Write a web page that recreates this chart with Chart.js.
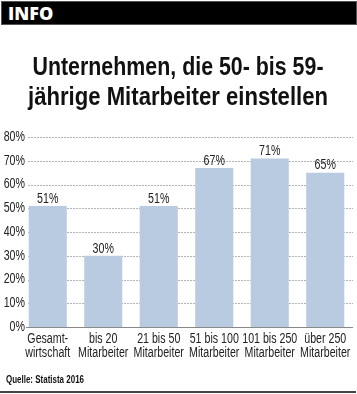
<!DOCTYPE html>
<html><head><meta charset="utf-8">
<script src="https://cdn.jsdelivr.net/npm/chart.js@4.4.1/dist/chart.umd.min.js"></script>
<style>
html,body{margin:0;padding:0;background:#fff;width:357px;height:394px;overflow:hidden;}
#wrap{position:absolute;left:0;top:0;width:357px;height:394px;}
#hdr{position:absolute;left:1px;top:1px;width:354px;height:22px;background:#000;border:1px solid #555;box-sizing:content-box;}
#hdr span{position:absolute;left:6px;top:0px;color:#fff;font:800 18px "Open Sans",sans-serif;line-height:22px;}
.tl{position:absolute;left:178px;font:bold 25px "Liberation Sans",sans-serif;color:#111;white-space:nowrap;line-height:30px;}
#src{position:absolute;left:6px;top:373px;font:bold 11px "Liberation Sans",sans-serif;color:#111;white-space:nowrap;transform-origin:left center;}
#bot{position:absolute;left:0;top:391px;width:356px;height:2px;background:#444;}
canvas{position:absolute;left:0;top:0;}
</style></head>
<body>
<div id="wrap"><canvas id="c" width="357" height="394"></canvas></div>
<div id="hdr"><span>INFO</span></div>
<div class="tl" id="t1" style="top:51px">Unternehmen, die 50- bis 59-</div>
<div class="tl" id="t2" style="top:81px">jährige Mitarbeiter einstellen</div>
<div id="src">Quelle: Statista 2016</div>
<div id="bot"></div>
<script>
const categories = [['Gesamt-','wirtschaft'],['bis 20','Mitarbeiter'],['21 bis 50','Mitarbeiter'],['51 bis 100','Mitarbeiter'],['101 bis 250','Mitarbeiter'],['über 250','Mitarbeiter']];
const values = [51, 30, 51, 67, 71, 65];
const yTicks = [0,10,20,30,40,50,60,70,80];

function fitCenter(el, target){
  const w = el.getBoundingClientRect().width;
  el.style.transformOrigin = 'left center';
  el.style.transform = 'translateX(' + (-target/2) + 'px) scaleX(' + (target / w) + ')';
}
function fitLeft(el, target){
  const w = el.getBoundingClientRect().width;
  el.style.transform = 'scaleX(' + (target / w) + ')';
}
fitCenter(document.getElementById('t1'), 291);
fitCenter(document.getElementById('t2'), 300);
fitLeft(document.getElementById('src'), 78);

const FONT = '"Liberation Sans",sans-serif';
const SX = 0.76; // horizontal condensing of canvas text

const canvas = document.getElementById('c');
const cctx = canvas.getContext('2d');
const origFill = cctx.fillText.bind(cctx);
const origMeasure = cctx.measureText.bind(cctx);
cctx.fillText = function(text, x, y){
  this.save();
  this.translate(x, y);
  this.scale(SX, 1);
  origFill(text, 0, 0);
  this.restore();
};
cctx.measureText = function(text){
  const m = origMeasure(text);
  return { width: m.width * SX, actualBoundingBoxAscent: m.actualBoundingBoxAscent, actualBoundingBoxDescent: m.actualBoundingBoxDescent };
};
cctx.font = '14px ' + FONT;
const widestY = cctx.measureText('80%').width;

const gridPlugin = {
  id: 'grid',
  beforeDatasetsDraw(chart){
    const ctx = chart.ctx, y = chart.scales.y, a = chart.chartArea;
    ctx.save();
    ctx.strokeStyle = '#b4b4b4';
    ctx.lineWidth = 1;
    ctx.setLineDash([2,1]);
    yTicks.forEach(v => {
      if (v === 0) return;
      const py = Math.round(y.getPixelForValue(v)) + 0.5;
      ctx.beginPath(); ctx.moveTo(28, py); ctx.lineTo(a.right, py); ctx.stroke();
    });
    ctx.restore();
  },
  afterDatasetsDraw(chart){
    const ctx = chart.ctx, y = chart.scales.y, a = chart.chartArea;
    ctx.save();
    ctx.strokeStyle = '#888';
    ctx.lineWidth = 1;
    const py = Math.round(y.getPixelForValue(0)) + 0.5;
    ctx.beginPath(); ctx.moveTo(26, py); ctx.lineTo(a.right, py); ctx.stroke();
    ctx.fillStyle = '#222';
    ctx.font = '14px ' + FONT;
    ctx.textAlign = 'center';
    ctx.textBaseline = 'bottom';
    chart.getDatasetMeta(0).data.forEach((bar, i) => {
      ctx.fillText(values[i] + '%', bar.x, bar.y);
    });
    ctx.restore();
  }
};

new Chart(canvas, {
  type: 'bar',
  data: { labels: categories, datasets: [{ data: values, backgroundColor: '#b9cbe1', borderWidth: 0, barPercentage: 0.686, categoryPercentage: 1 }] },
  options: {
    responsive: false, animation: false, devicePixelRatio: 1,
    layout: { padding: { top: 137, left: 3, right: 4, bottom: 27 } },
    plugins: { legend: { display: false }, tooltip: { enabled: false } },
    scales: {
      x: {
        grid: { display: false, drawTicks: false },
        border: { display: false },
        ticks: { color: '#222', font: { family: FONT, size: 14, lineHeight: 1.0 }, padding: 5, maxRotation: 0, minRotation: 0, autoSkip: false },
        afterFit(s){ s.height = 40; }
      },
      y: {
        min: 0, max: 80,
        grid: { display: false, drawTicks: false },
        border: { display: false },
        afterBuildTicks(s){ s.ticks = yTicks.map(v => ({ value: v })); },
        ticks: { color: '#222', font: { family: FONT, size: 14 }, mirror: true, crossAlign: 'far', padding: 5 - widestY, callback: v => v + '%' },
        afterFit(s){ s.width = 17; }
      }
    }
  },
  plugins: [gridPlugin]
});
</script>
</body></html>
